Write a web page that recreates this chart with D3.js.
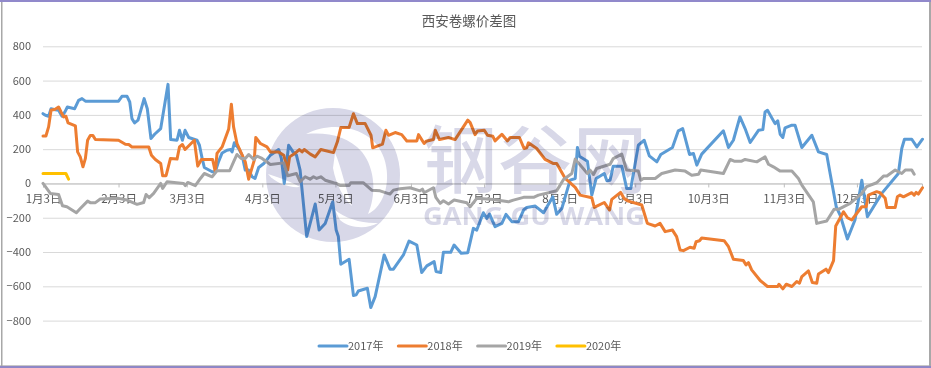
<!DOCTYPE html>
<html>
<head>
<meta charset="utf-8">
<script src="https://cdn.jsdelivr.net/npm/d3@7"></script>
<style>
  html, body { margin: 0; padding: 0; background: #fff; }
  text { font-family: "Noto Sans CJK SC", "Noto Sans", sans-serif; fill: #595959; }
</style>
</head>
<body>
<div id="chart"></div>
<script>
// Chart data. Pairs are [days after Jan 3, value]
const title = "西安卷螺价差图";
const tickDays = [0, 31, 59, 90, 120, 151, 181, 212, 243, 273, 304, 334];
const tickLabels = ["1月3日","2月3日","3月3日","4月3日","5月3日","6月3日","7月3日","8月3日","9月3日","10月3日","11月3日","12月3日"];
const yTicks = [800, 600, 400, 200, 0, -200, -400, -600, -800];
const seriesNames = ["2017年", "2018年", "2019年", "2020年"];
const seriesColors = ["#5B9BD5", "#ED7D31", "#A5A5A5", "#FFC000"];

const data2017 = [[0,407],[1,398],[2.3,392],[3.3,436],[5,430],[6.4,427],[7.8,392],[9,417],[10,446],[13,436],[14.6,485],[16,495],[17.4,480],[31,480],[32.4,508],[34.5,508],[35.6,475],[36.5,378],[37.6,353],[39,369],[41.5,495],[42.8,436],[44.3,262],[45.8,287],[48.3,320],[51.3,578],[52.4,256],[55,252],[56,310],[57.2,252],[58.3,310],[59.8,268],[63.2,252],[64.2,223],[65.3,146],[66.2,93],[69.4,68],[70.7,68],[72,126],[73.5,178],[75.5,194],[77,198],[77.6,184],[78.5,237],[80.3,204],[81.7,165],[83,78],[84.4,78],[85.8,39],[87,29],[88.5,93],[90.6,116],[93.3,165],[96.7,198],[97.8,146],[99,0],[100.8,223],[102.6,184],[104,165],[105.5,78],[108.2,-310],[111.7,-120],[113.3,-272],[115.8,-233],[118.9,-107],[120.3,-272],[121.2,-310],[122.2,-471],[125.6,-442],[127.4,-654],[128.5,-650],[129.4,-627],[133.1,-611],[134.5,-724],[136.3,-660],[140,-417],[142.4,-500],[143.8,-500],[147.9,-417],[150.2,-336],[153.4,-359],[155.4,-520],[157.5,-481],[160.5,-456],[161.3,-514],[163.2,-520],[164.3,-402],[167.3,-402],[168.7,-359],[171.6,-407],[174.3,-404],[176.6,-262],[178,-272],[180.7,-171],[182.1,-204],[183.2,-178],[185.5,-252],[188.3,-233],[190,-180],[192.4,-223],[195.1,-223],[197.2,-155],[198.5,-140],[202,-132],[205.4,-171],[209.2,-78],[210.8,-180],[212.9,-146],[216.3,19],[218.4,29],[219.3,210],[220.1,159],[223.4,130],[225.2,-68],[227,29],[230.3,58],[231.4,16],[232.7,19],[234,101],[237.5,101],[239.5,-29],[241.2,-29],[244.3,223],[246.7,252],[248.8,161],[251.9,126],[253.5,169],[258.3,210],[260.7,307],[262.5,320],[265.3,169],[266.9,175],[268.3,107],[270.3,171],[279.2,307],[281.3,210],[283.3,252],[286,388],[288.1,320],[290.2,239],[293.6,310],[295.4,314],[296.3,417],[297.3,427],[300.4,349],[301.5,365],[302.5,287],[303.6,268],[304.5,324],[307.3,340],[308.6,340],[311.4,210],[315.5,281],[318.2,184],[321.6,169],[323,58],[325.5,-136],[327.1,-184],[330.1,-324],[333.2,-213],[336,19],[338.3,-194],[344.2,-58],[351,58],[352.4,204],[353.5,258],[356.5,258],[358.6,213],[360.9,258]];

const data2018 = [[0,277],[1.2,277],[2.3,330],[3.3,427],[5,433],[6.4,446],[7.4,417],[8.5,388],[9.4,392],[10.3,353],[13.3,336],[14.2,184],[15.3,155],[16.4,97],[17.4,146],[18.3,252],[19.4,279],[20.5,279],[21.5,256],[31,252],[33.8,229],[35.2,227],[36.5,213],[43.4,213],[44.5,165],[46.1,140],[48.3,116],[49.1,45],[50.5,45],[52.3,146],[55,142],[56,213],[57.2,227],[58.3,198],[62.1,252],[63.5,101],[65,140],[69.6,140],[70.7,68],[71.4,175],[73.5,213],[76.2,318],[77.3,462],[78.2,330],[79.6,233],[83,126],[84.4,25],[86.7,136],[87.3,268],[89.2,233],[91.9,213],[93.3,184],[96.7,184],[98.8,165],[100.4,78],[101.2,155],[103.6,178],[105.2,198],[106.3,184],[107.2,198],[109.7,171],[111.7,155],[114,198],[119.2,180],[120.8,243],[122.2,326],[125.6,326],[127.4,407],[129,349],[132.2,349],[134.6,281],[135.3,208],[139.3,229],[140.7,310],[141.8,281],[144.5,297],[147.2,285],[149.3,248],[153.4,248],[154.1,285],[156.4,233],[157.2,246],[160.2,256],[161,310],[162.7,256],[166.4,268],[169.1,256],[174.3,369],[175.3,355],[177.3,285],[178.3,306],[181.1,310],[182.4,281],[184.6,275],[185.5,248],[188.3,287],[190.6,248],[191.7,268],[195.5,268],[197.4,204],[198.5,208],[199.2,237],[202.6,204],[206,140],[209.5,116],[210.8,116],[214.3,29],[218.4,-23],[220.4,-68],[225.2,-83],[226.2,-140],[230.3,-111],[232.5,-155],[233.4,-93],[237,-52],[238.4,-87],[240.2,-103],[245.7,-126],[248,-233],[251.2,-248],[253.2,-233],[255.3,-281],[258.3,-272],[260,-310],[261.4,-388],[262.8,-392],[265.5,-372],[267.2,-378],[268,-340],[269.4,-334],[270.3,-318],[279.5,-334],[281.3,-369],[283.3,-442],[287.4,-450],[288.5,-475],[289.5,-462],[290.8,-504],[294.3,-566],[297.3,-601],[301.5,-601],[302,-588],[303.6,-615],[305,-588],[307.3,-601],[309.3,-572],[310.4,-582],[311.4,-543],[314.1,-510],[315.7,-578],[317.5,-582],[318.2,-528],[321.3,-500],[322.3,-520],[324.4,-450],[325.3,-248],[328.5,-165],[330.1,-200],[331.9,-213],[336,-136],[337.8,-136],[338.7,-68],[342.1,-48],[343.5,-54],[345.6,-87],[346.3,-140],[349.7,-140],[350.6,-78],[351.7,-68],[353.1,-78],[356.5,-54],[357.5,-68],[358.3,-52],[359.2,-62],[360.9,-25]];

const data2019 = [[0,0],[1,-19],[3,-58],[6.4,-64],[8,-130],[9.8,-136],[13.7,-171],[15.3,-146],[18.3,-103],[19.4,-112],[21.5,-112],[23.5,-91],[31,-87],[34.5,-97],[38.6,-122],[41.3,-111],[42.3,-64],[43.6,-83],[45.4,-58],[48.3,0],[49.1,-29],[50.9,10],[57.7,0],[58.4,-13],[59.4,6],[62.5,-13],[64.6,29],[66.2,58],[69.4,39],[71.4,74],[76.6,74],[78.2,126],[79.6,169],[81.3,146],[83,146],[84.4,169],[86.5,140],[87.8,159],[89.9,146],[93.3,111],[98.8,120],[100.4,45],[104,58],[105.5,10],[107.6,39],[109.6,25],[111,39],[112.3,29],[114,39],[115.8,19],[119.2,4],[120.5,0],[121.9,-12],[125.6,-12],[126.3,4],[131.5,4],[134.9,-39],[138.3,-43],[142.4,-62],[143.8,-39],[146.5,-31],[150.6,-25],[154.7,-43],[155.7,-33],[156.4,-54],[160.2,-25],[161.2,-81],[163,-116],[164.3,-101],[166.4,-120],[168.7,-97],[173.9,-113],[175.3,-136],[178,-87],[184.8,-93],[191,-107],[193,-97],[197.2,-81],[201.3,-81],[203.3,-68],[210.8,-43],[213.6,23],[217,58],[218.4,142],[223.4,58],[224.5,78],[225.9,52],[227.2,87],[232.7,112],[234,145],[237.5,171],[239.5,78],[244.3,72],[245.3,19],[246.4,29],[251.2,29],[253.9,58],[259.4,78],[263.5,72],[266.2,48],[269,54],[269.9,78],[279.2,58],[282,140],[283.6,130],[286.7,130],[288.1,140],[292.9,126],[296.3,155],[297.7,112],[299.7,97],[302.5,72],[307.3,72],[310,29],[311.4,-10],[316.1,-107],[317.5,-233],[321.6,-219],[324.6,-151],[326.4,-151],[331.2,-116],[336,-58],[338,-19],[342.1,4],[344.9,43],[346.3,43],[349.7,78],[352.4,58],[353.8,78],[356.5,78],[357.5,54]];

const data2020 = [[0,58],[9.4,58],[10.5,25]];

const allSeries = [data2017, data2018, data2019, data2020];

const width = 931, height = 368;
const margin = {top: 46.3, right: 9, bottom: 47.4, left: 43};

const svg = d3.select("#chart").append("svg")
  .attr("width", width)
  .attr("height", height)
  .style("display", "block");

const x = d3.scaleLinear().domain([0, 360.7]).range([margin.left, width - margin.right]);
const y = d3.scaleLinear().domain([800, -800]).range([margin.top, height - margin.bottom]);

// window edges of the screenshot
svg.append("rect").attr("width", width).attr("height", 2).attr("fill", "#9189cb");
svg.append("rect").attr("y", 365).attr("width", width).attr("height", 1).attr("fill", "#c8c8c8");
svg.append("rect").attr("y", 366).attr("width", width).attr("height", 2).attr("fill", "#8f87c6");
svg.append("rect").attr("x", 1).attr("y", 2).attr("width", 1.5).attr("height", 364).attr("fill", "#a8a8a8");
svg.append("rect").attr("x", 929).attr("y", 2).attr("width", 2).attr("height", 364).attr("fill", "#a8a8a8");

// Title
svg.append("text")
  .attr("x", 469)
  .attr("y", 26)
  .attr("text-anchor", "middle")
  .style("font-size", "13.5px")
  .text(title);

// Grid and y labels
const yAxis = svg.append("g")
  .attr("transform", `translate(${margin.left},0)`)
  .call(d3.axisLeft(y).tickValues(yTicks).tickSize(-(width - margin.left - margin.right)).tickPadding(12));
yAxis.select(".domain").remove();
yAxis.selectAll("line").attr("stroke", "#D9D9D9").attr("stroke-width", 1);
yAxis.selectAll("text").style("font-size", "11px").attr("x", -12);

// x axis sits on zero
const xAxis = svg.append("g")
  .attr("transform", `translate(0,${y(0)})`)
  .call(d3.axisBottom(x).tickValues(tickDays).tickFormat((d, i) => tickLabels[i]).tickSize(4).tickPadding(7));
xAxis.select(".domain").attr("stroke", "#BFBFBF");
xAxis.selectAll("line").attr("stroke", "#BFBFBF");
xAxis.selectAll("text").style("font-size", "11.5px");

// Lines
const line = d3.line()
  .x(d => x(d[0]))
  .y(d => y(d[1]));

svg.append("g").selectAll("path")
  .data(allSeries)
  .enter()
  .append("path")
  .attr("d", line)
  .attr("fill", "none")
  .attr("stroke", (d, i) => seriesColors[i])
  .attr("stroke-width", 3)
  .attr("stroke-linejoin", "round")
  .attr("stroke-linecap", "round");

// Legend
const legend = svg.append("g").selectAll("g")
  .data(seriesNames)
  .enter()
  .append("g")
  .attr("transform", (d, i) => `translate(${319 + i * 79.3},346)`);
legend.append("line")
  .attr("x1", 0).attr("x2", 28)
  .attr("stroke", (d, i) => seriesColors[i])
  .attr("stroke-width", 3)
  .attr("stroke-linecap", "round");
legend.append("text")
  .attr("x", 29)
  .attr("y", 4)
  .style("font-size", "11px")
  .text(d => d);

// Watermark goes over everything, multiplied like the original stamp
const mark = svg.append("g").style("mix-blend-mode", "multiply");
const markColor = "#d8d8e8";
mark.append("circle").attr("cx", 333).attr("cy", 175).attr("r", 67).attr("fill", markColor);
// white swooshes of the logo
const swooshes = [
  "M306 134 C325 124 352 124 370 138 C388 152 391 180 383 197 C379 206 374 211 368 214 C376 196 376 170 362 152 C348 136 328 132 306 134 Z",
  "M335 153 C341 166 346 190 352 206 C343 198 336 184 333 168 Z",
  "M335 210 C345 218 362 224 378 223 C368 229 350 229 340 220 Z",
  "M268 174 C280 178 292 182 300 187 C290 188 276 184 268 174 Z"
];
mark.selectAll("path")
  .data(swooshes)
  .enter()
  .append("path")
  .attr("d", d => d)
  .attr("fill", "#fff");
mark.append("text")
  .attr("x", 423).attr("y", 187)
  .attr("textLength", 224)
  .style("font-size", "74px")
  .style("font-weight", 500)
  .style("fill", markColor)
  .text("钢谷网");
mark.append("text")
  .attr("x", 423).attr("y", 225)
  .attr("textLength", 222)
  .attr("lengthAdjust", "spacingAndGlyphs")
  .style("font-family", "'Open Sans', sans-serif")
  .style("font-size", "25px")
  .style("font-weight", 700)
  .style("fill", markColor)
  .text("GANG GU WANG");
</script>
</body>
</html>
